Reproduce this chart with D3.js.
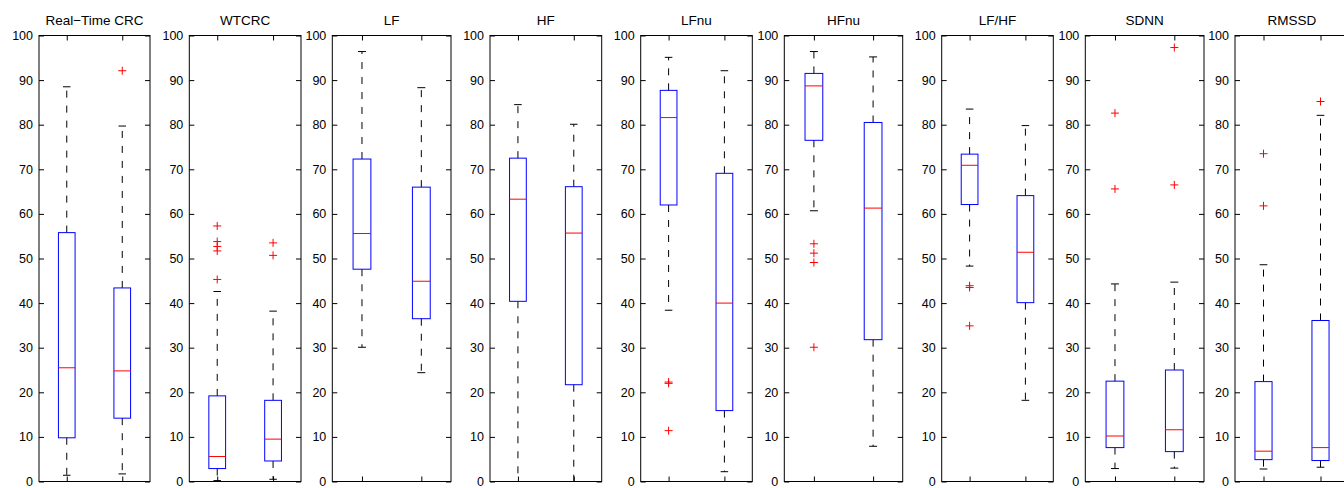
<!DOCTYPE html>
<html>
<head>
<meta charset="utf-8">
<script src="https://cdn.jsdelivr.net/npm/d3@7"></script>
<style>
  html, body { margin: 0; padding: 0; background: #fff; }
  svg { display: block; }
  text { font-family: "Liberation Sans", Arial, Helvetica, sans-serif; fill: #000; }
</style>
</head>
<body>
<svg id="chart" width="1344" height="488"></svg>
<script>
// ---------- data ----------
const categories = ["Real\u2212Time CRC", "WTCRC", "LF", "HF", "LFnu", "HFnu", "LF/HF", "SDNN", "RMSSD"];
const groups = [1, 2];
const yTicks = [0, 10, 20, 30, 40, 50, 60, 70, 80, 90, 100];

const whiskerLow  = [[1.4, 1.7], [0.2, 0.5], [30.1, 24.4], [0, 0], [38.4, 2.2], [60.7, 7.9], [48.3, 18.2], [2.9, 3.0], [2.8, 3.2]];
const q1          = [[9.8, 14.2], [2.9, 4.6], [47.6, 36.5], [40.4, 21.7], [62.0, 15.9], [76.5, 31.8], [62.1, 40.1], [7.6, 6.7], [4.9, 4.7]];
const medians     = [[25.5, 24.8], [5.6, 9.5], [55.6, 44.9], [63.3, 55.7], [81.6, 40.0], [88.7, 61.3], [70.9, 51.4], [10.2, 11.6], [6.8, 7.6]];
const q3          = [[55.8, 43.4], [19.2, 18.2], [72.3, 66.0], [72.5, 66.1], [87.7, 69.1], [91.5, 80.5], [73.4, 64.1], [22.5, 25.0], [22.4, 36.1]];
const whiskerHigh = [[88.5, 79.7], [42.6, 38.2], [96.4, 88.3], [84.5, 80.1], [95.1, 92.1], [96.4, 95.2], [83.5, 79.8], [44.3, 44.7], [48.6, 82.1]];
const outliers    = [
  [[], [92.1]],
  [[57.3, 53.8, 52.7, 51.7, 45.3], [53.5, 50.7]],
  [[], []],
  [[], []],
  [[22.0, 22.3, 11.4], []],
  [[53.3, 51.2, 49.1, 30.1], []],
  [[43.5, 43.9, 34.9], []],
  [[82.6, 65.6], [97.3, 66.5]],
  [[73.5, 61.8], [85.2]]
];

// ---------- layout ----------
const panelLeft  = [39, 189.3, 332.3, 490, 640.7, 784.3, 941.7, 1085.3, 1235];
const panelRight = [150, 301, 451, 601.7, 752.3, 902.7, 1053.3, 1204, 1349];
const plotTop = 35.5, plotBottom = 481.5;
const tickLen = 5;

const svg = d3.select("#chart");
const y = d3.scaleLinear().domain([0, 100]).range([plotBottom, plotTop]);

categories.forEach((name, i) => {
  const x0 = panelLeft[i], x1 = panelRight[i];
  const w = x1 - x0;
  const x = d3.scaleLinear().domain([0.5, 2.5]).range([x0, x1]);
  const boxW = w * 0.15;
  const capW = boxW * 0.45;
  const g = svg.append("g");

  // axes
  const left = d3.axisLeft(y).tickValues(yTicks).tickSizeInner(-tickLen).tickSizeOuter(0).tickPadding(6).tickFormat(d3.format("d"));
  const gl = g.append("g").attr("transform", `translate(${x0},0)`).call(left);
  gl.select(".domain").remove();
  gl.selectAll("line").attr("stroke", "#000");
  gl.selectAll("text").attr("font-size", "12.5px").attr("fill", "#000");

  const right = d3.axisRight(y).tickValues(yTicks).tickSizeInner(-tickLen).tickSizeOuter(0).tickFormat("");
  const gr = g.append("g").attr("transform", `translate(${x1},0)`).call(right);
  gr.select(".domain").remove();
  gr.selectAll("line").attr("stroke", "#000");

  const top = d3.axisTop(x).tickValues(groups).tickSizeInner(-tickLen).tickSizeOuter(0).tickFormat("");
  const gt = g.append("g").attr("transform", `translate(0,${plotTop})`).call(top);
  gt.select(".domain").remove();
  gt.selectAll("line").attr("stroke", "#000");

  const bottom = d3.axisBottom(x).tickValues(groups).tickSizeInner(-tickLen).tickSizeOuter(0).tickFormat("");
  const gb = g.append("g").attr("transform", `translate(0,${plotBottom})`).call(bottom);
  gb.select(".domain").remove();
  gb.selectAll("line").attr("stroke", "#000");

  // boxes
  groups.forEach((gi, j) => {
    const cx = x(gi);
    // whiskers
    g.append("line").attr("x1", cx).attr("x2", cx)
      .attr("y1", y(q3[i][j])).attr("y2", y(whiskerHigh[i][j]))
      .attr("stroke", "#000").attr("stroke-width", 1).attr("stroke-dasharray", "7,8");
    g.append("line").attr("x1", cx).attr("x2", cx)
      .attr("y1", y(q1[i][j])).attr("y2", y(whiskerLow[i][j]))
      .attr("stroke", "#000").attr("stroke-width", 1).attr("stroke-dasharray", "7,8");
    // caps
    [whiskerHigh[i][j], whiskerLow[i][j]].forEach(v => {
      g.append("line").attr("x1", cx - capW / 2).attr("x2", cx + capW / 2)
        .attr("y1", y(v)).attr("y2", y(v)).attr("stroke", "#000").attr("stroke-width", 1);
    });
    // box
    g.append("rect").attr("x", cx - boxW / 2).attr("width", boxW)
      .attr("y", y(q3[i][j])).attr("height", y(q1[i][j]) - y(q3[i][j]))
      .attr("fill", "none").attr("stroke", "#0000ff").attr("stroke-width", 1);
    // median
    g.append("line").attr("x1", cx - boxW / 2).attr("x2", cx + boxW / 2)
      .attr("y1", y(medians[i][j])).attr("y2", y(medians[i][j]))
      .attr("stroke", "#ff0000").attr("stroke-width", 1);
    // outliers
    outliers[i][j].forEach(v => {
      const py = y(v);
      g.append("path").attr("d", `M${cx - 4},${py}H${cx + 4}M${cx},${py - 4}V${py + 4}`)
        .attr("stroke", "#ff0000").attr("stroke-width", 1).attr("fill", "none");
    });
  });

  // frame
  g.append("rect").attr("x", x0).attr("y", plotTop).attr("width", w).attr("height", plotBottom - plotTop)
    .attr("fill", "none").attr("stroke", "#000").attr("stroke-width", 1);

  // title
  g.append("text").attr("x", (x0 + x1) / 2).attr("y", 25).attr("text-anchor", "middle")
    .attr("font-size", "13.5px").text(name);
});
</script>
</body>
</html>
